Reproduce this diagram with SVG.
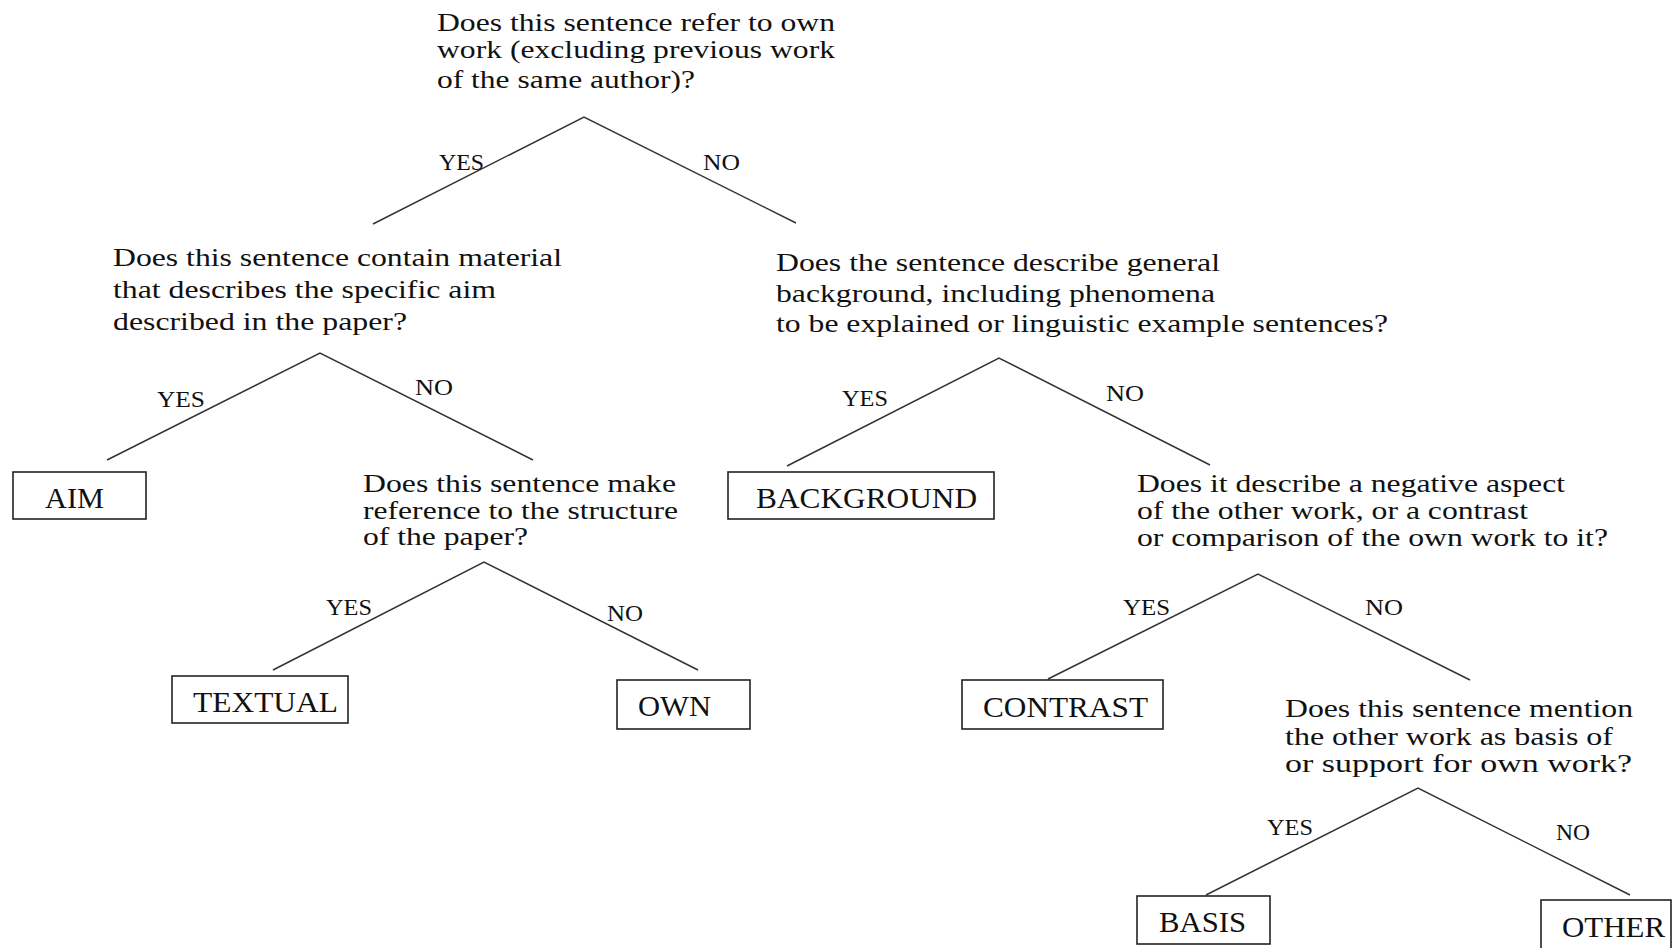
<svg xmlns="http://www.w3.org/2000/svg" width="1675" height="948" viewBox="0 0 1675 948">
<style>
.q{font-family:"Liberation Serif","Times New Roman",serif;font-size:26px;fill:#111}
.l{font-family:"Liberation Serif","Times New Roman",serif;font-size:23px;fill:#111}
.b{font-family:"Liberation Serif","Times New Roman",serif;font-size:30px;fill:#111}
.box{fill:#fff;stroke:#222;stroke-width:1.6}
.e{stroke:#333;stroke-width:1.5;fill:none}
</style>
<rect width="1675" height="948" fill="#fff"/>
<g id="connectors">
<polyline class="e" points="373,224 584,117 796,223"/>
<polyline class="e" points="107,460 320,353 533,460"/>
<polyline class="e" points="787,466 999,358 1210,465"/>
<polyline class="e" points="1048,679 1258,574 1470,680"/>
<polyline class="e" points="273,670 484,562 698,670"/>
<polyline class="e" points="1206,895 1418,788 1630,895"/>
<text class="l" x="439" y="170" textLength="45" lengthAdjust="spacingAndGlyphs">YES</text>
<text class="l" x="703" y="170" textLength="37" lengthAdjust="spacingAndGlyphs">NO</text>
<text class="l" x="157" y="407" textLength="48" lengthAdjust="spacingAndGlyphs">YES</text>
<text class="l" x="415" y="395" textLength="38" lengthAdjust="spacingAndGlyphs">NO</text>
<text class="l" x="842" y="406" textLength="46" lengthAdjust="spacingAndGlyphs">YES</text>
<text class="l" x="1106" y="401" textLength="38" lengthAdjust="spacingAndGlyphs">NO</text>
<text class="l" x="1123" y="615" textLength="47" lengthAdjust="spacingAndGlyphs">YES</text>
<text class="l" x="1365" y="615" textLength="38" lengthAdjust="spacingAndGlyphs">NO</text>
<text class="l" x="326" y="615" textLength="46" lengthAdjust="spacingAndGlyphs">YES</text>
<text class="l" x="607" y="621" textLength="36" lengthAdjust="spacingAndGlyphs">NO</text>
<text class="l" x="1267" y="835" textLength="46" lengthAdjust="spacingAndGlyphs">YES</text>
<text class="l" x="1556" y="840" textLength="34" lengthAdjust="spacingAndGlyphs">NO</text>
</g>
<g id="q1">
<text class="q" x="437" y="31" textLength="398" lengthAdjust="spacingAndGlyphs">Does this sentence refer to own</text>
<text class="q" x="437" y="58" textLength="398" lengthAdjust="spacingAndGlyphs">work (excluding previous work</text>
<text class="q" x="437" y="88" textLength="258" lengthAdjust="spacingAndGlyphs">of the same author)?</text>
</g>
<g id="q2">
<text class="q" x="113" y="266" textLength="449" lengthAdjust="spacingAndGlyphs">Does this sentence contain material</text>
<text class="q" x="113" y="298" textLength="383" lengthAdjust="spacingAndGlyphs">that describes the specific aim</text>
<text class="q" x="113" y="330" textLength="294" lengthAdjust="spacingAndGlyphs">described in the paper?</text>
</g>
<g id="q3">
<text class="q" x="776" y="271" textLength="444" lengthAdjust="spacingAndGlyphs">Does the sentence describe general</text>
<text class="q" x="776" y="302" textLength="439" lengthAdjust="spacingAndGlyphs">background, including phenomena</text>
<text class="q" x="776" y="332" textLength="612" lengthAdjust="spacingAndGlyphs">to be explained or linguistic example sentences?</text>
</g>
<g id="q4">
<text class="q" x="1137" y="492" textLength="428" lengthAdjust="spacingAndGlyphs">Does it describe a negative aspect</text>
<text class="q" x="1137" y="519" textLength="391" lengthAdjust="spacingAndGlyphs">of the other work, or a contrast</text>
<text class="q" x="1137" y="546" textLength="471" lengthAdjust="spacingAndGlyphs">or comparison of the own work to it?</text>
</g>
<g id="q5">
<text class="q" x="363" y="492" textLength="313" lengthAdjust="spacingAndGlyphs">Does this sentence make</text>
<text class="q" x="363" y="519" textLength="315" lengthAdjust="spacingAndGlyphs">reference to the structure</text>
<text class="q" x="363" y="545" textLength="165" lengthAdjust="spacingAndGlyphs">of the paper?</text>
</g>
<g id="q6">
<text class="q" x="1285" y="717" textLength="348" lengthAdjust="spacingAndGlyphs">Does this sentence mention</text>
<text class="q" x="1285" y="745" textLength="328" lengthAdjust="spacingAndGlyphs">the other work as basis of</text>
<text class="q" x="1285" y="772" textLength="347" lengthAdjust="spacingAndGlyphs">or support for own work?</text>
</g>
<g id="aim">
<rect class="box" x="13" y="472" width="133" height="47"/>
<text class="b" x="45" y="508" textLength="59" lengthAdjust="spacingAndGlyphs">AIM</text>
</g>
<g id="background">
<rect class="box" x="728" y="472" width="266" height="47"/>
<text class="b" x="756" y="508" textLength="221" lengthAdjust="spacingAndGlyphs">BACKGROUND</text>
</g>
<g id="textual">
<rect class="box" x="172" y="676" width="176" height="47"/>
<text class="b" x="193" y="712" textLength="145" lengthAdjust="spacingAndGlyphs">TEXTUAL</text>
</g>
<g id="own">
<rect class="box" x="617" y="680" width="133" height="49"/>
<text class="b" x="638" y="716" textLength="73" lengthAdjust="spacingAndGlyphs">OWN</text>
</g>
<g id="contrast">
<rect class="box" x="962" y="680" width="201" height="49"/>
<text class="b" x="983" y="717" textLength="165" lengthAdjust="spacingAndGlyphs">CONTRAST</text>
</g>
<g id="basis">
<rect class="box" x="1137" y="896" width="133" height="48"/>
<text class="b" x="1159" y="932" textLength="87" lengthAdjust="spacingAndGlyphs">BASIS</text>
</g>
<g id="other">
<rect class="box" x="1541" y="900" width="130" height="52"/>
<text class="b" x="1562" y="937" textLength="103" lengthAdjust="spacingAndGlyphs">OTHER</text>
</g>
</svg>
